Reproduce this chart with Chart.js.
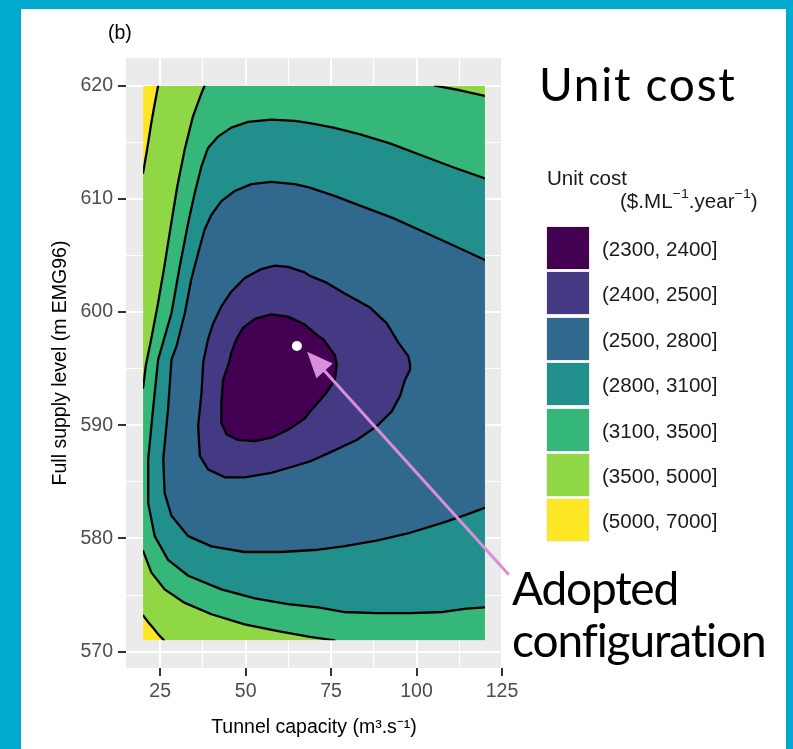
<!DOCTYPE html>
<html>
<head>
<meta charset="utf-8">
<script src="https://cdn.jsdelivr.net/npm/chart.js@4.4.1/dist/chart.umd.min.js"></script>
<style>
  html, body { margin: 0; padding: 0; }
  body { width: 793px; height: 749px; background: #00AACF; position: relative; overflow: hidden;
         font-family: "Liberation Sans", Arial, sans-serif; }
  #sheet { position: absolute; left: 21px; top: 9px; width: 765px; height: 740px; background: #FFFFFF; }
  #plot { position: absolute; left: 0; top: 0; }
  .t { position: absolute; white-space: nowrap; color: #000; font-size: 19.5px; line-height: 24px; }
  .t sup { font-size: 13.5px; line-height: 0; vertical-align: 10px; }
  .leg { transform: scaleX(1.055); transform-origin: left center; color: #1A1A1A; }
  .big { font-family: Lato, "Open Sans", sans-serif; font-size: 46px; line-height: 46px; color: #000; }
  .key { position: absolute; left: 547px; width: 42px; height: 42px; box-shadow: 0 0 0 1px #EEEEEE; }
</style>
</head>
<body>
<div id="sheet"></div>
<canvas id="plot" width="793" height="749"></canvas>
<div class="t" style="left:108px;top:20px;">(b)</div>
<div class="t big" style="left:539px;top:61px;letter-spacing:1.7px;">Unit cost</div>
<div class="t leg" style="left:547px;top:166px;">Unit cost</div>
<div class="t leg" style="left:620px;top:189px;">($.ML<sup>−1</sup>.year<sup>−1</sup>)</div>
<div id="legend"></div>
<div class="t big" style="left:512px;top:565px;letter-spacing:-1.2px;">Adopted</div>
<div class="t big" style="left:512px;top:617px;letter-spacing:-1.1px;">configuration</div>

<script>
// Unit-cost bands (legend order, lowest cost first)
const unitCostBands = ['(2300, 2400]', '(2400, 2500]', '(2500, 2800]', '(2800, 3100]',
                       '(3100, 3500]', '(3500, 5000]', '(5000, 7000]'];

// Axis breaks
const xTicks = [25, 50, 75, 100, 125];
const xMinorTicks = [37.5, 62.5, 87.5, 112.5];
const yTicks = [570, 580, 590, 600, 610, 620];
const yMinorTicks = [575, 585, 595, 605, 615];

// Extent of the evaluated design space
const capacityRange = [20, 120];   // tunnel capacity, m3/s
const levelRange = [571, 620];     // full supply level, m EMG96

// Adopted configuration [capacity, level]
const adoptedConfig = [65, 597];

// Annotation arrow [capacity, level]: tail and head
const arrowTail = [127.0, 576.8];
const arrowHead = [68.0, 596.5];

// Contour lines of unit cost, [capacity, level]
const c5000top = [[24.4,620],[23.4,618.4],[22.4,616.7],[21.3,614.6],[20,612.3]];
const c5000bottom = [[20,573.2],[21.5,572.6],[22.9,572.1],[24.5,571.5],[26.1,571]];
const c3500left = [[38,620],[36.9,619.2],[34.6,617.3],[32.2,614.4],[30,611.1],[28.1,607.6],
                   [26.1,603.8],[24.2,600.5],[22.3,597.5],[20.8,595.3],[20,593.3]];
const c3500bottom = [[20,578.9],[22.4,577],[26.3,575.5],[32.2,574.3],[40,573.3],[49.7,572.4],
                     [59.5,571.8],[68.8,571.3],[76,571]];
const c3500corner = [[105.4,620],[112.7,619.6],[120,619.1]];
const c3100 = [[120,611.8],[110.7,612.8],[101,613.9],[92.2,614.9],[83.5,615.7],[75.7,616.3],
               [68.8,616.7],[64.4,616.9],[57.5,617],[50.7,616.8],[45.8,616.3],[41.9,615.5],
               [39,614.5],[37.1,612.9],[35.1,610.5],[33.2,607.9],[30.7,604],[28.3,599.9],
               [24.4,595.8],[22.9,591.4],[21.5,587],[21.5,583.1],[23.4,580.2],[27.3,578.1],
               [33.2,576.7],[42.9,575.5],[52.7,574.7],[62.4,574.2],[71.2,573.9],[78.6,573.5],
               [88.3,573.4],[98.1,573.4],[107.8,573.5],[114.6,573.8],[120,573.9]];
const c2800 = [[120,604.6],[110.7,605.9],[102,607.1],[93.2,608.3],[84.4,609.3],[76.6,610.2],
               [68.8,611],[64.4,611.3],[57.5,611.5],[51.7,611.3],[46.8,610.7],[42.9,609.8],
               [40,608.6],[38,607.3],[36.1,605.2],[34.1,602.9],[32.2,599.9],[29.8,597],
               [28.3,595.8],[27.3,591.4],[25.9,587],[26.3,584],[28.3,582],[33.2,580.2],
               [40,579.3],[49.7,578.8],[60.5,578.8],[71.2,579],[78.6,579.3],[88.3,579.8],
               [98.1,580.5],[107.8,581.4],[114.6,582.1],[120,582.7]];
const c2500 = [[68.8,603.2],[73.7,602.6],[78.6,601.7],[86.4,600.4],[91.3,599],[94.7,597.3],
               [97.6,596.1],[98.1,595.4],[98.1,594.9],[96.6,594],[95.2,592.6],[92.7,591.2],
               [88.3,589.9],[82.5,588.7],[74.7,587.6],[68.8,586.8],[64.4,586.4],[57.5,585.8],
               [49.7,585.4],[43.9,585.4],[39,586.1],[36.6,587.3],[36.1,589.9],[37.1,592.9],
               [37.6,595.6],[39,597.6],[40.5,599],[42.9,600.5],[45.8,601.8],[49.7,603],
               [54.6,603.8],[58.5,604.1],[62.4,604],[67.3,603.5],[68.8,603.2]];
const c2400 = [[45,595.4],[45.8,596.4],[47.3,597.6],[49.2,598.6],[52.7,599.4],[57.5,599.8],
               [62.4,599.6],[67.3,598.9],[71.2,597.9],[72.7,597.6],[76.1,596.2],[76.6,595.4],
               [76.6,595.2],[76.1,594],[73.7,592.9],[70.3,591.7],[68.8,591.2],[67.3,590.6],
               [62.4,589.6],[57.5,588.9],[52.7,588.6],[47.8,588.7],[44.4,589.2],[42.9,590.2],
               [42.9,592],[43.4,594],[45,595.4]];

// viridis(7), lowest band first
const bandColors = ['#440154', '#443A83', '#31688E', '#21908C', '#35B779', '#8FD744', '#FDE725'];

const FONT = '"Liberation Sans", Arial, sans-serif';
const [xa, xb] = capacityRange;
const [ya, yb] = levelRange;
const xPad = 0.05 * (xb - xa), yPad = 0.05 * (yb - ya);

// Regions where unit cost is at or below each band's upper bound (highest first)
const costRegions = [
  [[xa, ya], [xb, ya], [xb, yb], [xa, yb]],                                   // <= 7000
  [...c5000top, ...c5000bottom, [xb, ya], [xb, yb]],                          // <= 5000
  [...c3500left, ...c3500bottom, [xb, ya], ...c3500corner.slice().reverse()], // <= 3500
  c3100,                                                                      // <= 3100
  c2800,                                                                      // <= 2800
  c2500,                                                                      // <= 2500
  c2400                                                                       // <= 2400
];
const contourLines = [c5000top, c5000bottom, c3500left, c3500bottom, c3500corner, c3100, c2800, c2500, c2400];

const toXY = pts => pts.map(([x, y]) => ({x, y}));

const datasets = [];
costRegions.forEach((pts, k) => {
  datasets.push({
    data: toXY(pts),
    backgroundColor: bandColors[bandColors.length - 1 - k],
    borderColor: 'rgba(0,0,0,0)',
    borderWidth: 0,
    pointRadius: 0,
    fill: 'shape',
    tension: 0,
    order: 100 - k
  });
});
contourLines.forEach(pts => {
  datasets.push({
    data: toXY(pts),
    borderColor: '#000000',
    borderWidth: 2.3,
    borderJoinStyle: 'round',
    borderCapStyle: 'round',
    pointRadius: 0,
    fill: false,
    tension: 0,
    order: 10
  });
});
datasets.push({
  data: toXY([adoptedConfig]),
  showLine: false,
  pointRadius: 5,
  pointBackgroundColor: '#FFFFFF',
  pointBorderWidth: 0,
  order: 0
});

// Grey panel behind the grid
const panelBackground = {
  id: 'panelBackground',
  beforeDraw(chart) {
    const {ctx, chartArea: a} = chart;
    ctx.save();
    ctx.fillStyle = '#EBEBEB';
    ctx.fillRect(a.left, a.top, a.right - a.left, a.bottom - a.top);
    ctx.restore();
  }
};

// Keep the filled contours inside the evaluated design space, then draw the arrow
const designSpace = {
  id: 'designSpace',
  beforeDatasetsDraw(chart) {
    const {ctx, scales: {x, y}} = chart;
    const l = x.getPixelForValue(xa), r = x.getPixelForValue(xb);
    const t = y.getPixelForValue(yb), b = y.getPixelForValue(ya);
    ctx.save();
    ctx.beginPath();
    ctx.rect(l, t, r - l, b - t);
    ctx.clip();
  },
  afterDatasetsDraw(chart) {
    const {ctx, scales: {x, y}} = chart;
    ctx.restore();
    const x0 = x.getPixelForValue(arrowTail[0]), y0 = y.getPixelForValue(arrowTail[1]);
    const x1 = x.getPixelForValue(arrowHead[0]), y1 = y.getPixelForValue(arrowHead[1]);
    const ang = Math.atan2(y1 - y0, x1 - x0);
    const headLen = 26, headHalf = 11;
    const bx = x1 - headLen * Math.cos(ang), by = y1 - headLen * Math.sin(ang);
    ctx.save();
    ctx.strokeStyle = '#DA8EDC';
    ctx.fillStyle = '#DA8EDC';
    ctx.lineWidth = 3;
    ctx.beginPath();
    ctx.moveTo(x0, y0);
    ctx.lineTo(bx + 2 * Math.cos(ang), by + 2 * Math.sin(ang));
    ctx.stroke();
    ctx.beginPath();
    ctx.moveTo(x1, y1);
    ctx.lineTo(bx + headHalf * Math.sin(ang), by - headHalf * Math.cos(ang));
    ctx.lineTo(bx - headHalf * Math.sin(ang), by + headHalf * Math.cos(ang));
    ctx.closePath();
    ctx.fill();
    ctx.restore();
  }
};

const isMajorX = c => c.tick && xTicks.includes(c.tick.value);
const isMajorY = c => c.tick && yTicks.includes(c.tick.value);

new Chart(document.getElementById('plot'), {
  type: 'line',
  data: { datasets },
  options: {
    responsive: false,
    devicePixelRatio: 1,
    animation: false,
    events: [],
    layout: { padding: { left: 0, right: 291, top: 58, bottom: 0 } },
    plugins: { legend: { display: false }, tooltip: { enabled: false } },
    scales: {
      x: {
        type: 'linear',
        min: xa - xPad,
        max: xb + xPad,
        afterBuildTicks: s => { s.ticks = [...xTicks, ...xMinorTicks].sort((a, b) => a - b).map(v => ({value: v})); },
        afterFit: s => { s.height = 81; },
        ticks: {
          autoSkip: false, maxRotation: 0, minRotation: 0, padding: 4,
          color: '#4D4D4D', font: { family: FONT, size: 19.5 },
          callback: v => xTicks.includes(v) ? String(v) : ''
        },
        grid: {
          color: '#FFFFFF',
          lineWidth: c => isMajorX(c) ? 2 : 1,
          tickColor: c => isMajorX(c) ? '#333333' : 'rgba(0,0,0,0)',
          tickLength: 8,
          tickWidth: 2
        },
        border: { display: false },
        title: {
          display: true, text: 'Tunnel capacity (m³.s⁻¹)', color: '#000000',
          font: { family: FONT, size: 19.5 }, padding: { top: 0, bottom: 10 }
        }
      },
      y: {
        type: 'linear',
        min: ya - yPad,
        max: yb + yPad,
        afterBuildTicks: s => { s.ticks = [...yTicks, ...yMinorTicks].sort((a, b) => a - b).map(v => ({value: v})); },
        afterFit: s => { s.width = 126; },
        ticks: {
          autoSkip: false, padding: 5,
          color: '#4D4D4D', font: { family: FONT, size: 19.5 },
          callback: v => yTicks.includes(v) ? String(v) : ''
        },
        grid: {
          color: '#FFFFFF',
          lineWidth: c => isMajorY(c) ? 2 : 1,
          tickColor: c => isMajorY(c) ? '#333333' : 'rgba(0,0,0,0)',
          tickLength: 8,
          tickWidth: 2
        },
        border: { display: false },
        title: {
          display: true, text: 'Full supply level (m EMG96)', color: '#000000',
          font: { family: FONT, size: 19.5 }, padding: { top: 49, bottom: 0 }
        }
      }
    }
  },
  plugins: [panelBackground, designSpace]
});

// Legend keys and labels
const legend = document.getElementById('legend');
unitCostBands.forEach((label, i) => {
  const top = 227 + i * 45.4;
  const key = document.createElement('div');
  key.className = 'key';
  key.style.top = top + 'px';
  key.style.background = bandColors[i];
  legend.appendChild(key);
  const txt = document.createElement('div');
  txt.className = 't leg';
  txt.style.left = '602px';
  txt.style.top = (top + 21 - 11) + 'px';
  txt.textContent = label;
  legend.appendChild(txt);
});
</script>
</body>
</html>
